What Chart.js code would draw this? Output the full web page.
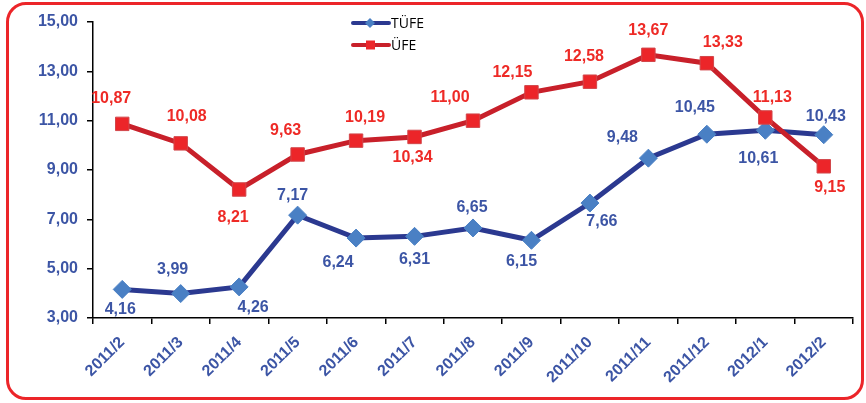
<!DOCTYPE html>
<html>
<head>
<meta charset="utf-8">
<script src="https://cdn.jsdelivr.net/npm/chart.js@4.4.1/dist/chart.umd.min.js"></script>
<style>
  html, body { margin: 0; padding: 0; background: #fff; }
  #wrap { position: relative; width: 866px; height: 403px; }
  #frame { position: absolute; left: 6px; top: 2px; width: 852px; height: 392px;
           border: 3px solid #ec2529; border-radius: 20px; }
  #myChart { position: absolute; left: 0; top: 0; }
</style>
</head>
<body>
<div id="wrap">
  <div id="frame"></div>
  <canvas id="myChart" width="866" height="403"></canvas>
</div>
<script>
const months = ["2011/2","2011/3","2011/4","2011/5","2011/6","2011/7","2011/8","2011/9","2011/10","2011/11","2011/12","2012/1","2012/2"];
const tufe = [4.16, 3.99, 4.26, 7.17, 6.24, 6.31, 6.65, 6.15, 7.66, 9.48, 10.45, 10.61, 10.43];
const ufe = [10.87, 10.08, 8.21, 9.63, 10.19, 10.34, 11.00, 12.15, 12.58, 13.67, 13.33, 11.13, 9.15];
const yTicks = [3, 5, 7, 9, 11, 13, 15];

// where each value label sits relative to its point
const tufeLabelOff = [[-2,20],[-8,-24],[14,21],[-5,-20],[-18,25],[0,23],[-1,-20],[-10,21],[12,19],[-26,-21],[-12,-27],[-7,28],[2,-18]];
const ufeLabelOff = [[-11,-25],[6,-27],[-6,28],[-12,-24],[9,-23],[-2,21],[-23,-23],[-19,-20],[-6,-25],[0,-24],[16,-21],[7,-20],[6,21]];

const blueTxt = "#3c55a5";
const redTxt = "#ee2a26";

function fmt(v) { return v.toFixed(2).replace(".", ","); }

const valueLabels = {
  id: "valueLabels",
  afterDatasetsDraw(chart) {
    const ctx = chart.ctx;
    ctx.save();
    ctx.font = "bold 16px 'Liberation Sans', Arial, sans-serif";
    ctx.textAlign = "center";
    ctx.textBaseline = "middle";
    chart.data.datasets.forEach((ds, i) => {
      const meta = chart.getDatasetMeta(i);
      const offs = ds.label === "TÜFE" ? tufeLabelOff : ufeLabelOff;
      ctx.fillStyle = ds.label === "TÜFE" ? blueTxt : redTxt;
      meta.data.forEach((pt, j) => {
        ctx.fillText(fmt(ds.data[j]), pt.x + offs[j][0], pt.y + offs[j][1]);
      });
    });
    ctx.restore();
  }
};

// legend drawn by hand: line with marker in the middle
const lineLegend = {
  id: "lineLegend",
  afterDraw(chart) {
    const ctx = chart.ctx;
    const items = [
      { text: "TÜFE", line: "#2b3990", fill: "#4a80c4", shape: "diamond", y: 23 },
      { text: "ÜFE", line: "#c8202a", fill: "#ec2529", shape: "square", y: 45 }
    ];
    ctx.save();
    items.forEach(it => {
      ctx.strokeStyle = it.line;
      ctx.lineWidth = 4;
      ctx.lineCap = "round";
      ctx.beginPath();
      ctx.moveTo(353, it.y);
      ctx.lineTo(389, it.y);
      ctx.stroke();
      ctx.fillStyle = it.fill;
      ctx.beginPath();
      if (it.shape === "diamond") {
        ctx.moveTo(370, it.y - 5); ctx.lineTo(375, it.y); ctx.lineTo(370, it.y + 5); ctx.lineTo(365, it.y);
      } else {
        ctx.rect(366, it.y - 4.5, 9, 9);
      }
      ctx.closePath();
      ctx.fill();
      ctx.fillStyle = "#000";
      ctx.font = "14px 'Open Sans', 'Liberation Sans', sans-serif";
      ctx.textAlign = "left";
      ctx.textBaseline = "middle";
      ctx.fillText(it.text, 391, it.y + 1);
    });
    ctx.restore();
  }
};

const tickFont = { family: "'Liberation Sans', Arial, sans-serif", size: 16, weight: "bold" };

const ctx = document.getElementById("myChart").getContext("2d");
const myChart = new Chart(ctx, {
  type: "line",
  data: {
    labels: months,
    datasets: [{
      label: "TÜFE",
      data: tufe,
      order: 2,
      borderColor: "#2b3990",
      borderWidth: 5,
      pointStyle: "rectRot",
      pointRadius: 9,
      pointBackgroundColor: "#4a80c4",
      pointBorderColor: "#4a80c4",
      pointBorderWidth: 1,
      tension: 0
    }, {
      label: "ÜFE",
      data: ufe,
      order: 1,
      borderColor: "#c8202a",
      borderWidth: 5,
      pointStyle: "rect",
      pointRadius: 9.5,
      pointBackgroundColor: "#ec2529",
      pointBorderColor: "#d2464a",
      pointBorderWidth: 1,
      tension: 0
    }]
  },
  options: {
    responsive: false,
    animation: false,
    layout: { padding: { top: 22, right: 13, bottom: 0, left: 0 } },
    plugins: { legend: { display: false }, tooltip: { enabled: false } },
    scales: {
      x: {
        offset: true,
        afterFit(scale) { scale.height = 85; },
        border: { color: "#000", width: 1.5 },
        grid: { offset: true, drawOnChartArea: false, drawTicks: true, tickLength: 6, color: "#000", lineWidth: 1.5 },
        ticks: { color: blueTxt, font: tickFont, minRotation: 45, maxRotation: 45, autoSkip: false, padding: 9 }
      },
      y: {
        min: 3,
        max: 15,
        afterFit(scale) { scale.width = 93; },
        afterBuildTicks(scale) { scale.ticks = yTicks.map(v => ({ value: v })); },
        border: { color: "#000", width: 1.5 },
        grid: { drawOnChartArea: false, drawTicks: true, tickLength: 6, color: "#000", lineWidth: 1.5 },
        ticks: { color: blueTxt, font: tickFont, padding: 9, callback: v => fmt(v) }
      }
    }
  },
  plugins: [valueLabels, lineLegend]
});
</script>
</body>
</html>
